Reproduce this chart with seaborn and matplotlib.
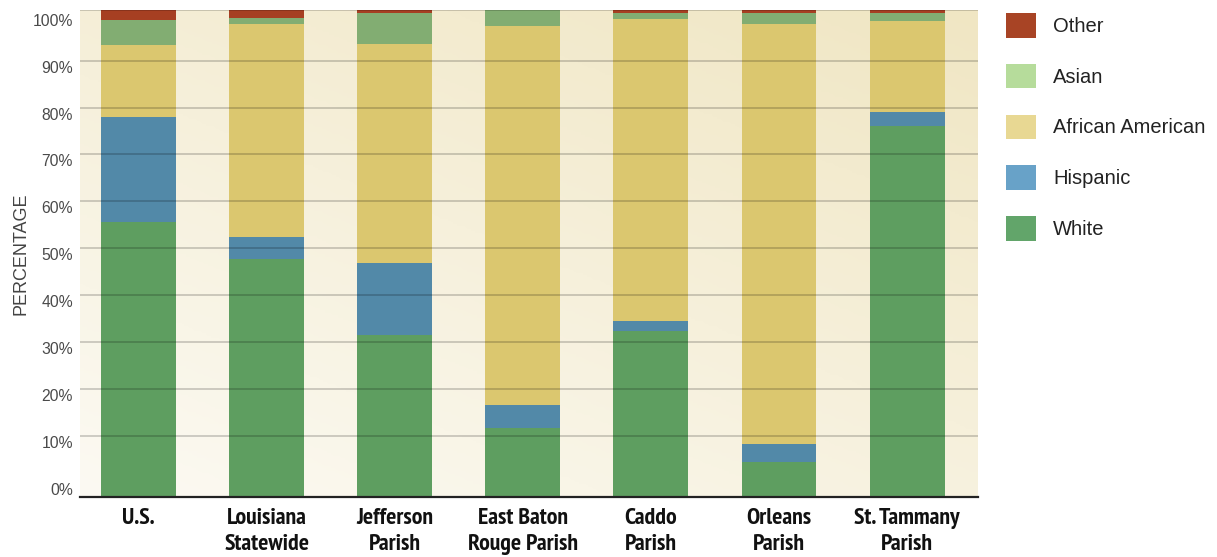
import numpy as np
import pandas as pd
import matplotlib
matplotlib.use("Agg")
import matplotlib.pyplot as plt
import matplotlib.transforms as mtransforms
from matplotlib.colors import LinearSegmentedColormap
from matplotlib.patches import Patch
from matplotlib import font_manager
import seaborn as sns

# data (percent, grid scale)
regions = ["U.S.", "Louisiana\nStatewide", "Jefferson\nParish", "East Baton\nRouge Parish",
           "Caddo\nParish", "Orleans\nParish", "St. Tammany\nParish"]
white = [55.6, 47.8, 31.5, 11.7, 32.3, 4.5, 76.1]
hispanic = [22.4, 4.5, 15.3, 4.8, 2.2, 3.7, 2.9]
african_american = [15.3, 45.5, 46.8, 80.9, 64.4, 89.6, 19.5]
asian = [5.4, 1.3, 6.6, 3.4, 1.2, 2.3, 1.7]
other = [2.1, 1.7, 0.6, 0.0, 0.7, 0.7, 0.6]

groups = ["White", "Hispanic", "African American", "Asian", "Other"]
bar_colors = ["#5e9e60", "#5289a8", "#dbc76f", "#82ad72", "#a63f22"]
legend_colors = ["#62a56a", "#68a2c8", "#e8d893", "#b6dc9b", "#a84425"]

Y_MIN, Y_MAX = -3.1, 100.8

sns.set_theme(style="white")
names = {f.name for f in font_manager.fontManager.ttflist}
base_font = "Liberation Sans" if "Liberation Sans" in names else "DejaVu Sans"
plt.rcParams["font.family"] = [base_font, "DejaVu Sans"]

# condensed bold face for the category labels (narrow first)
bold = [f for f in font_manager.fontManager.ttflist if f.weight in ("bold", 700)]
narrow = [f for f in bold if "Narrow" in f.fname or "Narrow" in f.name]
condensed = [f for f in bold if "Condensed" in f.fname]
if narrow:
    xlab_font = font_manager.FontProperties(fname=narrow[0].fname, size=17.2)
elif condensed:
    xlab_font = font_manager.FontProperties(fname=condensed[0].fname, size=12.8)
else:
    xlab_font = font_manager.FontProperties(family=base_font, weight="bold", size=13)

df = pd.DataFrame({"region": regions, "White": white, "Hispanic": hispanic,
                   "African American": african_american, "Asian": asian, "Other": other})

fig = plt.figure(figsize=(12.17, 5.57), dpi=100)
ax = fig.add_axes([80 / 1217, (557 - 497.3) / 557, (977.7 - 80) / 1217, (497.3 - 10) / 557])

bottom = np.zeros(len(df))
for i, (g, c) in enumerate(zip(groups, bar_colors)):
    vals = df[g].to_numpy(dtype=float)
    if i == 0:
        # first layer starts at the axis baseline
        heights = vals - Y_MIN
        bots = np.full(len(df), Y_MIN)
    else:
        heights = vals
        bots = bottom.copy()
    sns.barplot(x=df["region"], y=heights, color=c, saturation=1, width=0.585,
                linewidth=0, bottom=bots, ax=ax, zorder=2)
    bottom = bots + heights

# background gradient (light at bottom-left, cream at top-right)
xlim = (-0.457, 6.551)
gx, gy = np.meshgrid(np.linspace(0, 1, 200), np.linspace(0, 1, 200))
grad = (0.55 * gx + 0.75 * gy) / 1.3
cmap = LinearSegmentedColormap.from_list("bg", ["#fcfaf3", "#f0e6c3"])
ax.imshow(grad, cmap=cmap, origin="lower", aspect="auto",
          extent=[xlim[0], xlim[1], Y_MIN, Y_MAX], zorder=0)

# grid lines drawn over the bars
for v in list(range(10, 100, 10)) + [Y_MAX]:
    ax.axhline(v, color="black", alpha=0.18, lw=1.4, zorder=3)

ax.set_xlim(*xlim)
ax.set_ylim(Y_MIN, Y_MAX)

ax.set_yticks(range(0, 101, 10))
ax.set_yticklabels([f"{v}%" for v in range(0, 101, 10)], fontsize=11.3, color="#4a4a4a")
ax.tick_params(axis="y", length=0, pad=5)
off = mtransforms.ScaledTranslation(0, -6 / 100, fig.dpi_scale_trans)
for lab in ax.get_yticklabels():
    lab.set_transform(lab.get_transform() + off)

ax.set_xticks(range(len(regions)))
ax.set_xticklabels(regions, fontproperties=xlab_font, color="#111111", linespacing=1.3)
ax.tick_params(axis="x", length=0, pad=8)
ax.set_xlabel("")
ax.set_ylabel("PERCENTAGE", fontsize=13, color="#444444", labelpad=2)

for s in ["top", "right", "left"]:
    ax.spines[s].set_visible(False)
ax.spines["bottom"].set_color("#222222")
ax.spines["bottom"].set_linewidth(1.6)
ax.spines["bottom"].set_zorder(4)

# legend, top entry first
handles = [Patch(facecolor=c, edgecolor="none", label=g)
           for g, c in zip(groups[::-1], legend_colors[::-1])]
fig.legend(handles=handles, loc="upper left", bbox_to_anchor=(1006 / 1217, 1 - 13 / 557),
           frameon=False, borderpad=0, borderaxespad=0, fontsize=14.5,
           handlelength=1.5, handleheight=1.5, labelspacing=1.3, handletextpad=0.85,
           labelcolor="#222222")

fig.savefig("out.png", dpi=100)
